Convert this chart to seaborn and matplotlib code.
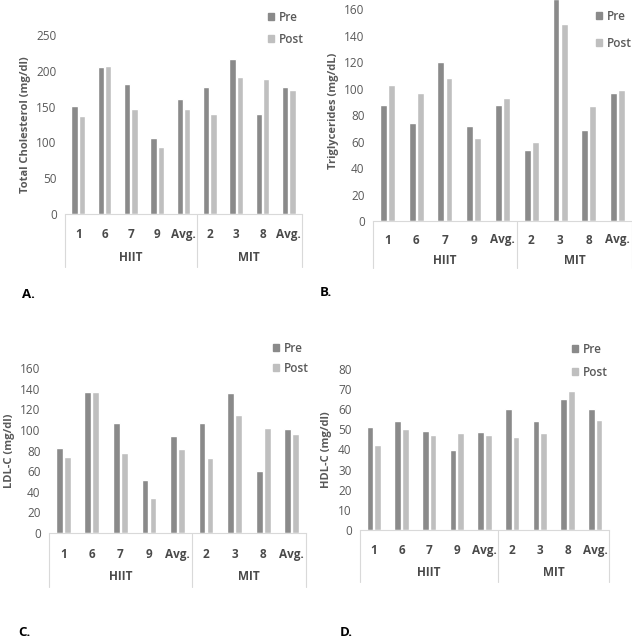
import matplotlib
matplotlib.use('Agg')
import matplotlib.pyplot as plt
import matplotlib.patches as mpatches
import matplotlib.transforms as mtransforms
import pandas as pd
import seaborn as sns

# x categories (subject ids per training group)
groups = ["HIIT"] * 5 + ["MIT"] * 4
labels = ["1", "6", "7", "9", "Avg.", "2", "3", "8", "Avg."]

tc_pre = [151, 206, 181, 106, 161, 178, 217, 139, 178]
tc_post = [137, 207, 147, 94, 146, 139, 192, 189, 173]

tg_pre = [88, 74, 120, 71.5, 88, 54, 168, 69, 97]
tg_post = [103, 97, 108, 63, 93, 60, 149, 87, 99]

ldl_pre = [82, 137, 107, 51, 94, 107, 136, 60, 101]
ldl_post = [74, 137, 78, 34, 81, 73, 114, 102, 96]

hdl_pre = [51, 54, 49, 40, 48.7, 60, 54, 65, 60]
hdl_post = [42, 50, 47, 48, 47, 46, 48, 69, 54.6]

PRE_COLOR = "#8a8a8a"
POST_COLOR = "#bfbfbf"
TEXT = "#595959"
LINE = "#d9d9d9"

W, H = 632, 639

sns.set_theme(style="white")
plt.rcParams['font.family'] = ['Open Sans', 'DejaVu Sans']

fig = plt.figure(figsize=(W / 100, H / 100), dpi=100)


def px_axes(left, right, zero, top):
    # pixel box -> figure fraction
    return fig.add_axes([left / W, 1 - zero / H, (right - left) / W, (zero - top) / H])


def draw_panel(ax, pre, post, ylabel, ymax, ticks, letter, letter_xy,
               legend_xy, legend_gap, cat_dy, grp_dy, table_dy):
    keys = [f"{g}|{i}" for i, g in enumerate(groups)]
    df = pd.DataFrame({
        "key": keys * 2,
        "value": pre + post,
        "time": ["Pre"] * len(pre) + ["Post"] * len(post),
    })
    sns.barplot(data=df, x="key", y="value", hue="time", order=keys,
                hue_order=["Pre", "Post"], palette=[PRE_COLOR, POST_COLOR],
                width=0.56, gap=0.14, saturation=1, legend=False, ax=ax)
    ax.set_ylim(0, ymax)
    ax.set_xlim(-0.5, len(keys) - 0.5)
    ax.set_yticks(ticks)
    ax.set_yticklabels([str(t) for t in ticks], color=TEXT, fontsize=8.5)
    ax.set_xticks(range(len(keys)))
    ax.set_xticklabels(labels, color="#4a4a4a", fontsize=8.5, fontweight="bold")
    ax.tick_params(axis="both", length=0)
    ax.tick_params(axis="x", pad=cat_dy)
    ax.tick_params(axis="y", pad=6)
    ax.set_xlabel("")
    ax.set_ylabel(ylabel, color=TEXT, fontsize=8, fontweight="bold", labelpad=4)
    for s in ["top", "right", "left"]:
        ax.spines[s].set_visible(False)
    ax.spines["bottom"].set_color(LINE)
    ax.spines["bottom"].set_linewidth(0.8)

    # table-like category axis
    hpx = ax.get_position().height * H
    trans = mtransforms.blended_transform_factory(ax.transData, ax.transAxes)
    for xv in [-0.5, 4.5, len(keys) - 0.5]:
        ax.plot([xv, xv], [0, -table_dy / hpx], color=LINE, lw=0.8,
                transform=trans, clip_on=False)
    ax.text(2, -grp_dy / hpx, "HIIT", transform=trans, ha="center", va="center",
            color="#4a4a4a", fontsize=8.5, fontweight="bold")
    ax.text(6.5, -grp_dy / hpx, "MIT", transform=trans, ha="center", va="center",
            color="#4a4a4a", fontsize=8.5, fontweight="bold")

    handles = [mpatches.Patch(color=PRE_COLOR, label="Pre"),
               mpatches.Patch(color=POST_COLOR, label="Post")]
    leg = ax.legend(handles=handles, loc="upper left",
                    bbox_to_anchor=(legend_xy[0] / W, 1 - legend_xy[1] / H),
                    bbox_transform=fig.transFigure, frameon=False, fontsize=8.5,
                    handlelength=0.55, handleheight=0.55, handletextpad=0.35,
                    labelspacing=legend_gap, borderpad=0, labelcolor=TEXT)
    for t in leg.get_texts():
        t.set_fontweight("semibold")

    fig.text(letter_xy[0] / W, 1 - letter_xy[1] / H, letter, ha="left",
             va="center", fontsize=9.5, fontweight="bold", color="black")


axA = px_axes(65, 302, 214, 35)
draw_panel(axA, tc_pre, tc_post, "Total Cholesterol (mg/dl)", 250,
           [0, 50, 100, 150, 200, 250], "A.", (22, 295), (262, 5), 0.75,
           10, 44, 53)

axB = px_axes(373, 632, 221, 0)
draw_panel(axB, tg_pre, tg_post, "Triglycerides (mg/dL)", 167,
           [0, 20, 40, 60, 80, 100, 120, 140, 160], "B.", (320, 293),
           (590, 4), 1.2, 9, 40, 47)

axC = px_axes(49, 306, 533, 368)
draw_panel(axC, ldl_pre, ldl_post, "LDL-C (mg/dl)", 160,
           [0, 20, 40, 60, 80, 100, 120, 140, 160], "C.", (18, 632),
           (267, 336), 0.6, 11, 44, 54)

axD = px_axes(360, 609, 530, 369)
draw_panel(axD, hdl_pre, hdl_post, "HDL-C (mg/dl)", 80,
           [0, 10, 20, 30, 40, 50, 60, 70, 80], "D.", (340, 633),
           (566, 337), 0.85, 10, 43, 52)

fig.savefig("out.png", dpi=100, facecolor="white")
